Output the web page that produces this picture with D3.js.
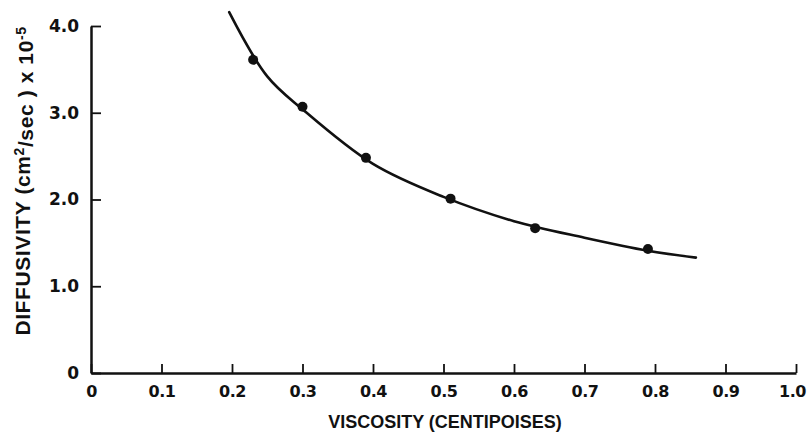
<!DOCTYPE html>
<html>
<head>
<meta charset="utf-8">
<script src="https://cdn.jsdelivr.net/npm/d3@7"></script>
<style>
  body { margin: 0; background: #fff; }
  text { font-family: "Liberation Sans", Arial, sans-serif; font-weight: bold; fill: #111; }
  .tick text { font-family: "DejaVu Sans", sans-serif; font-weight: 600; }
</style>
</head>
<body>
<script>
// measured points
var viscosity = [0.23, 0.30, 0.39, 0.51, 0.63, 0.79];
var diffusivity = [3.61, 3.07, 2.48, 2.01, 1.67, 1.43];

// fitted curve
var curveX = [0.196, 0.25, 0.30, 0.40, 0.50, 0.60, 0.70, 0.79, 0.858];
var curveY = [4.16, 3.42, 3.04, 2.41, 2.03, 1.75, 1.56, 1.41, 1.33];

var xTicks = [0, 0.1, 0.2, 0.3, 0.4, 0.5, 0.6, 0.7, 0.8, 0.9, 1.0];
var xTickLabels = ["0", "0.1", "0.2", "0.3", "0.4", "0.5", "0.6", "0.7", "0.8", "0.9", "1.0"];
var yTicks = [0, 1, 2, 3, 4];
var yTickLabels = ["0", "1.0", "2.0", "3.0", "4.0"];

var width = 808, height = 434;
var margin = {top: 26, right: 12, bottom: 61, left: 91};

var svg = d3.select("body").append("svg")
    .attr("width", width)
    .attr("height", height);

var x = d3.scaleLinear().domain([0, 1]).range([margin.left, width - margin.right]);
var y = d3.scaleLinear().domain([0, 4]).range([height - margin.bottom, margin.top]);

// x axis, ticks pointing inward
var xAxis = svg.append("g")
    .attr("transform", "translate(0," + y(0) + ")")
    .call(d3.axisBottom(x).tickValues(xTicks).tickSizeInner(-9).tickSizeOuter(0)
      .tickFormat(function(d, i) { return xTickLabels[i]; }));
xAxis.select(".domain").attr("stroke", "#111").attr("stroke-width", 2.5);
xAxis.selectAll(".tick line").attr("stroke", "#111").attr("stroke-width", 1.8);
xAxis.selectAll(".tick text")
    .attr("y", 13).attr("dy", "0.71em")
    .attr("dx", function(d, i) { return i == xTicks.length - 1 ? -4 : 0; })
    .style("font-size", "16px")
    .style("letter-spacing", "-0.5px");

// y axis, ticks pointing inward
var yAxis = svg.append("g")
    .attr("transform", "translate(" + x(0) + ",0)")
    .call(d3.axisLeft(y).tickValues(yTicks).tickSizeInner(-10).tickSizeOuter(0)
      .tickFormat(function(d, i) { return yTickLabels[i]; }));
yAxis.select(".domain").attr("stroke", "#111").attr("stroke-width", 2.5);
yAxis.selectAll(".tick line").attr("stroke", "#111").attr("stroke-width", 1.8);
yAxis.selectAll(".tick text")
    .attr("x", -12)
    .style("font-size", "17px");

// axis titles
svg.append("text")
    .attr("x", 445)
    .attr("y", 428)
    .attr("text-anchor", "middle")
    .style("font-size", "18px")
    .text("VISCOSITY (CENTIPOISES)");

var yt = svg.append("text")
    .attr("transform", "translate(30,181) rotate(-90)")
    .attr("text-anchor", "middle")
    .style("font-size", "21px")
    .style("letter-spacing", "0.6px");
yt.append("tspan").text("DIFFUSIVITY  (cm");
yt.append("tspan").attr("dy", "-0.45em").style("font-size", "14px").text("2");
yt.append("tspan").attr("dy", "0.45em").text("/sec )  x  10");
yt.append("tspan").attr("dy", "-0.5em").style("font-size", "14px").text("-5");

// curve
var line = d3.line()
    .x(function(d) { return x(d[0]); })
    .y(function(d) { return y(d[1]); })
    .curve(d3.curveCatmullRom);

svg.append("path")
    .datum(d3.zip(curveX, curveY))
    .attr("d", line)
    .attr("fill", "none")
    .attr("stroke", "#111")
    .attr("stroke-width", 2.6)
    .attr("stroke-linecap", "round");

// points
svg.append("g").selectAll("circle")
    .data(d3.zip(viscosity, diffusivity))
  .enter().append("circle")
    .attr("cx", function(d) { return x(d[0]); })
    .attr("cy", function(d) { return y(d[1]); })
    .attr("r", 5)
    .attr("fill", "#111");
</script>
</body>
</html>
